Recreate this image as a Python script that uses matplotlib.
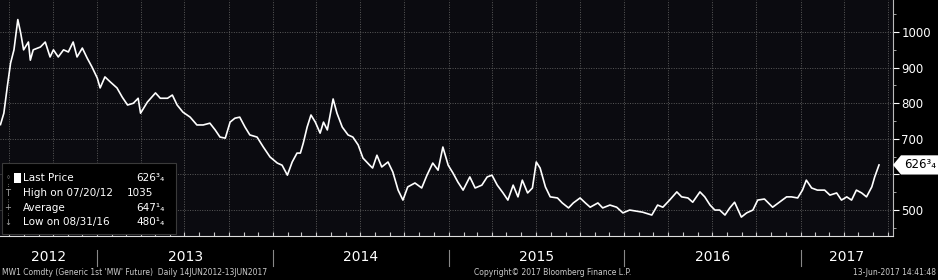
import matplotlib
matplotlib.use("Agg")
import matplotlib.pyplot as plt
import matplotlib.dates as mdates
from matplotlib.patches import Rectangle, Polygon
import pandas as pd

# MW1 Comdty (Generic 1st 'MW' Future)
dates = [
    "2012-06-14", "2012-06-21", "2012-06-28", "2012-07-05", "2012-07-12", "2012-07-20",
    "2012-07-26", "2012-08-01", "2012-08-11", "2012-08-15", "2012-08-21", "2012-09-05",
    "2012-09-15", "2012-09-25", "2012-10-02", "2012-10-12", "2012-10-23", "2012-11-02",
    "2012-11-12", "2012-11-20", "2012-12-01", "2012-12-11", "2012-12-21",
    "2013-01-01", "2013-01-07", "2013-01-17", "2013-01-28", "2013-02-11", "2013-02-22",
    "2013-03-05", "2013-03-17", "2013-03-27", "2013-04-01", "2013-04-15", "2013-05-02",
    "2013-05-12", "2013-05-27", "2013-06-06", "2013-06-16", "2013-06-28", "2013-07-13",
    "2013-07-27", "2013-08-09", "2013-08-23", "2013-09-03", "2013-09-13", "2013-09-24",
    "2013-10-04", "2013-10-14", "2013-10-24", "2013-11-04", "2013-11-14", "2013-11-29",
    "2013-12-12", "2013-12-26",
    "2014-01-10", "2014-01-20", "2014-01-31", "2014-02-10", "2014-02-20", "2014-02-27",
    "2014-03-05", "2014-03-13", "2014-03-21", "2014-03-30", "2014-04-09", "2014-04-16",
    "2014-04-24", "2014-05-06", "2014-05-14", "2014-05-25", "2014-06-06", "2014-06-16",
    "2014-06-27", "2014-07-07", "2014-07-21", "2014-07-27", "2014-08-05", "2014-08-15",
    "2014-08-28", "2014-09-07", "2014-09-18", "2014-09-28", "2014-10-08", "2014-10-23",
    "2014-11-06", "2014-11-17", "2014-11-29", "2014-12-10", "2014-12-20", "2014-12-31",
    "2015-01-10", "2015-01-20", "2015-01-31", "2015-02-14", "2015-02-25", "2015-03-11",
    "2015-03-22", "2015-04-01", "2015-04-12", "2015-04-24", "2015-05-04", "2015-05-15",
    "2015-05-25", "2015-06-03", "2015-06-14", "2015-06-24", "2015-07-02", "2015-07-10",
    "2015-07-21", "2015-07-31", "2015-08-15", "2015-08-25", "2015-09-07", "2015-09-17",
    "2015-10-01", "2015-10-12", "2015-10-22", "2015-11-07", "2015-11-17", "2015-12-02",
    "2015-12-16", "2015-12-29",
    "2016-01-12", "2016-01-26", "2016-02-08", "2016-02-27", "2016-03-10", "2016-03-21",
    "2016-04-04", "2016-04-19", "2016-04-29", "2016-05-12", "2016-05-22", "2016-06-06",
    "2016-06-16", "2016-06-27", "2016-07-07", "2016-07-17", "2016-07-28", "2016-08-07",
    "2016-08-17", "2016-08-31", "2016-09-11", "2016-09-24", "2016-10-04", "2016-10-18",
    "2016-11-04", "2016-11-18", "2016-12-03", "2016-12-13", "2016-12-26",
    "2017-01-05", "2017-01-13", "2017-01-24", "2017-02-05", "2017-02-20", "2017-03-03",
    "2017-03-17", "2017-03-27", "2017-04-07", "2017-04-17", "2017-04-27", "2017-05-08",
    "2017-05-18", "2017-05-29", "2017-06-04", "2017-06-13",
]
prices = [
    740, 772, 845, 913, 950, 1035,
    997, 950, 972, 921, 950, 958,
    972, 930, 950, 930, 950, 944,
    972, 930, 955, 927, 902,
    871, 843, 874, 860, 843, 817,
    795, 800, 814, 772, 803, 829,
    814, 814, 823, 795, 775, 761,
    739, 739, 744, 725, 705, 702,
    747, 758, 761, 733, 711, 705,
    677, 649,
    632, 626, 598, 635, 660, 660,
    688, 733, 767, 747, 716, 747,
    725, 812, 772, 733, 711, 705,
    683, 646, 626, 618, 654, 621,
    635, 607, 556, 528, 565, 576,
    562, 598, 632, 612, 677, 626,
    604, 579, 556, 593, 562, 570,
    593, 598, 570, 548, 528, 570,
    537, 584, 548, 562, 635, 618,
    565, 537, 534, 520, 506, 520,
    534, 520, 508, 520, 506, 514,
    508, 492,
    500, 497, 494, 486, 514, 508,
    528, 551, 537, 534, 522, 551,
    537, 514, 500, 500, 486, 506,
    522, 480.25, 492, 500, 528, 531,
    508, 522, 537, 537, 534,
    556, 584, 562, 556, 556, 542,
    548, 528, 537, 528, 556, 548,
    537, 565, 593, 626.75,
]
years = ["2012", "2013", "2014", "2015", "2016", "2017"]
y_ticks = [500, 600, 700, 800, 900, 1000]
legend_labels = ["Last Price", "High on 07/20/12", "Average", "Low on 08/31/16"]
legend_values = ["626\u00b3\u2084", "1035", "647\u00b9\u2084", "480\u00b9\u2084"]
last_price = 626.75

dates = pd.to_datetime(dates)

fig = plt.figure(figsize=(9.38, 2.8), dpi=100, facecolor="black")
ax = fig.add_axes([0.0, 0.157, 0.952, 0.843])
ax.set_facecolor("#0b0b10")

ax.plot(dates, prices, color="white", lw=1.2, zorder=3)

x_start = pd.Timestamp("2012-06-13")
x_end = pd.Timestamp("2017-07-12")
ax.set_xlim(x_start, x_end)
ax.set_ylim(427, 1090)

# grid: quarterly verticals, 100-step horizontals, dotted
for q in pd.date_range("2012-07-01", "2017-07-01", freq="QS"):
    ax.axvline(q, color="#5a5a5a", lw=0.7, ls=(0, (1, 1.5)), zorder=1)
for v in y_ticks:
    ax.axhline(v, color="#5a5a5a", lw=0.7, ls=(0, (1, 1.5)), zorder=1)

for s in ["top", "left"]:
    ax.spines[s].set_visible(False)
ax.spines["right"].set_color("#bbbbbb")
ax.spines["bottom"].set_color("#dddddd")

ax.yaxis.tick_right()
ax.set_yticks(y_ticks)
ax.set_yticklabels([str(v) if v != 600 else "" for v in y_ticks])
ax.set_yticks(range(450, 1090, 50), minor=True)
ax.tick_params(axis="y", which="major", colors="white", labelsize=8.5, length=4, pad=2)
ax.tick_params(axis="y", which="minor", colors="#bbbbbb", length=2)

ax.xaxis.set_major_locator(mdates.MonthLocator())
ax.xaxis.set_major_formatter(plt.NullFormatter())
ax.tick_params(axis="x", which="major", direction="in", colors="#cccccc", length=3)

# year labels and separators below the axis
bt = ax.get_xaxis_transform()
for i, yr in enumerate(years):
    lo = max(pd.Timestamp(yr + "-01-01"), x_start)
    hi = min(pd.Timestamp(str(int(yr) + 1) + "-01-01"), x_end)
    ax.text(lo + (hi - lo) / 2, -0.09, yr, transform=bt, ha="center", va="center",
            color="white", fontsize=10)
    if i > 0:
        ax.plot([lo, lo], [-0.06, -0.125], transform=bt, color="#888888", lw=0.8,
                clip_on=False)

# legend box
ax.add_patch(Rectangle((0.002, 0.008), 0.195, 0.30, transform=ax.transAxes,
                       facecolor="black", edgecolor="#3a3a3a", lw=0.8, zorder=4))
rows = [0.246, 0.182, 0.119, 0.059]
icons = ["\u25e6", "T", "+", "\u2193"]
ax.plot([0.009, 0.009], [0.05, 0.25], transform=ax.transAxes, color="#888888",
        lw=0.6, ls=":", zorder=5)
for r, lab, val, ic in zip(rows, legend_labels, legend_values, icons):
    ax.text(0.009, r, ic, transform=ax.transAxes, color="#aaaaaa", fontsize=6,
            ha="center", va="center", zorder=6,
            bbox=dict(facecolor="black", edgecolor="none", pad=0.2))
    ax.text(0.026, r, lab, transform=ax.transAxes, color="white", fontsize=7.5,
            ha="left", va="center", zorder=6)
    xr = 0.172 if val == "1035" else 0.184
    ax.text(xr, r, val, transform=ax.transAxes, color="white", fontsize=7.5,
            ha="right", va="center", zorder=6)
ax.add_patch(Rectangle((0.016, rows[0] - 0.02), 0.007, 0.04, transform=ax.transAxes,
                       facecolor="white", edgecolor="none", zorder=6))

# last price tag on the right axis (covers the 600 label, as in the original)
yt = ax.get_yaxis_transform()
tag = Polygon([(1.0, last_price), (1.009, last_price + 27), (1.052, last_price + 27),
               (1.052, last_price - 27), (1.009, last_price - 27)], closed=True,
              transform=yt, facecolor="white", edgecolor="none", clip_on=False, zorder=7)
ax.add_patch(tag)
ax.text(1.012, last_price, legend_values[0], transform=yt, color="black", fontsize=8.5,
        ha="left", va="center", zorder=8, clip_on=False)

# footer
fig.text(0.002, 0.012, "MW1 Comdty (Generic 1st 'MW' Future)  Daily 14JUN2012-13JUN2017",
         color="#cccccc", fontsize=5.5, ha="left", va="bottom")
fig.text(0.589, 0.012, "Copyright\u00a9 2017 Bloomberg Finance L.P.",
         color="#cccccc", fontsize=5.5, ha="center", va="bottom")
fig.text(0.998, 0.012, "13-Jun-2017 14:41:48", color="#cccccc", fontsize=5.5,
         ha="right", va="bottom")

fig.savefig("out.png", dpi=100, facecolor="black")
